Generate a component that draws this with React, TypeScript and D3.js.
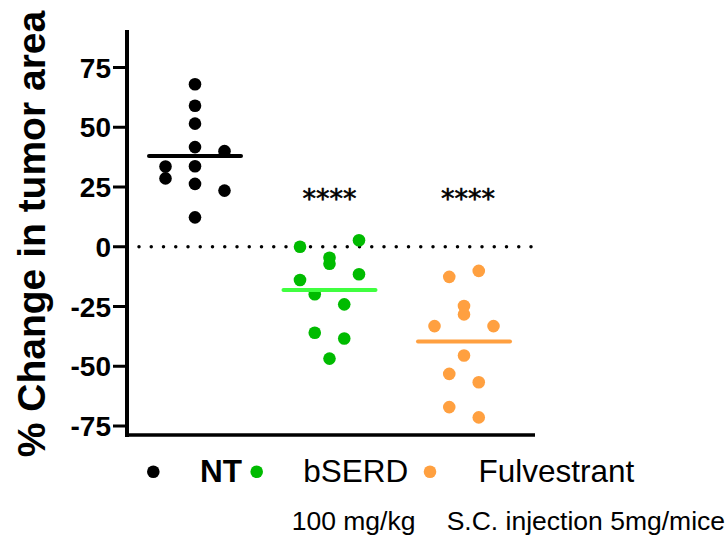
import React from "react";
import * as d3 from "d3";

const groups = ["NT", "bSERD", "Fulvestrant"];
const groupColors = ["#000000", "#00bb00", "#ffa040"];
const meanColors = ["#000000", "#40ff40", "#ffa040"];

const ntValues = [68, 59, 51.5, 41.7, 40, 33.6, 33.7, 28.6, 26.3, 23.5, 12.3];
const ntColumns = [0, 0, 0, 0, 2, -2, 0, -2, 0, 2, 0];
const bserdValues = [0, 2.7, -4.6, -7.1, -13.9, -11.5, -19.9, -24.1, -36, -38.4, -46.8];
const bserdColumns = [-2, 2, 0, 0, -2, 2, -1, 1, -1, 1, 0];
const fulvValues = [-12.6, -10.1, -24.8, -28.3, -33.2, -33.2, -45.5, -53.2, -56.7, -67.1, -71.4];
const fulvColumns = [-1, 1, 0, 0, -2, 2, 0, -1, 1, -1, 1];

const yTicks = [75, 50, 25, 0, -25, -50, -75];
const significance = ["", "****", "****"];
const doseNotes = ["100 mg/kg", "S.C. injection 5mg/mice"];
const yTitle = "% Change in tumor area";

const FONT = "'Liberation Sans', Arial, Helvetica, sans-serif";

export default function App() {
  const y = d3.scaleLinear().domain([-75, 75]).range([426, 67.5]);
  const x = d3.scalePoint<string>().domain(groups).range([195, 464]);
  const colStep = 14.75;
  const axisX = 127;
  const axisBottom = 435;
  const axisTop = 30;
  const axisRight = 535;

  const series = [
    { values: ntValues, cols: ntColumns },
    { values: bserdValues, cols: bserdColumns },
    { values: fulvValues, cols: fulvColumns },
  ];

  const legendDotX = [153.3, 256.7, 430];
  const legendTextX = [200, 303.3, 478.5];

  return (
    <svg
      width={728}
      height={540}
      style={{ position: "absolute", left: 0, top: 0, background: "#fff" }}
      fontFamily={FONT}
    >
      {/* y title */}
      <text
        transform={`translate(45,234) rotate(-90)`}
        textAnchor="middle"
        fontSize={39}
        fontWeight="bold"
        fill="#000"
      >
        {yTitle}
      </text>

      {/* zero dotted line */}
      <line
        x1={139}
        x2={axisRight}
        y1={y(0)}
        y2={y(0)}
        stroke="#000"
        strokeWidth={3.5}
        strokeLinecap="round"
        strokeDasharray="0 12.25"
      />

      {/* axes */}
      <line x1={axisX} x2={axisX} y1={axisTop} y2={axisBottom + 2} stroke="#000" strokeWidth={4} />
      <line x1={axisX - 2} x2={axisRight} y1={axisBottom} y2={axisBottom} stroke="#000" strokeWidth={3.5} />
      {yTicks.map((t) => (
        <g key={t}>
          <line x1={113} x2={axisX} y1={y(t)} y2={y(t)} stroke="#000" strokeWidth={3} />
          <text
            x={111}
            y={y(t)}
            dy="0.36em"
            textAnchor="end"
            fontSize={28}
            fontWeight="bold"
            fill="#000"
          >
            {t}
          </text>
        </g>
      ))}

      {/* points */}
      {series.map((s, gi) =>
        s.values.map((v, i) => (
          <circle
            key={`${gi}-${i}`}
            cx={(x(groups[gi]) as number) + s.cols[i] * colStep}
            cy={y(v)}
            r={6.3}
            fill={groupColors[gi]}
          />
        ))
      )}

      {/* mean lines */}
      {series.map((s, gi) => {
        const m = d3.mean(s.values) as number;
        const cx = x(groups[gi]) as number;
        return (
          <line
            key={`m${gi}`}
            x1={cx - 46}
            x2={cx + 46}
            y1={y(m)}
            y2={y(m)}
            stroke={meanColors[gi]}
            strokeWidth={4}
            strokeLinecap="round"
          />
        );
      })}

      {/* significance */}
      {significance.map((s, gi) =>
        s ? (
          <text
            key={`s${gi}`}
            x={(x(groups[gi]) as number) + (gi === 2 ? 4 : 0)}
            y={208}
            textAnchor="middle"
            fontSize={27}
            fontFamily="'DejaVu Sans', sans-serif"
            fill="#000"
            stroke="#000"
            strokeWidth={0.6}
          >
            {s}
          </text>
        ) : null
      )}

      {/* legend */}
      {groups.map((g, gi) => (
        <g key={`l${gi}`}>
          <circle cx={legendDotX[gi]} cy={471.7} r={6.3} fill={groupColors[gi]} />
          <text
            x={legendTextX[gi]}
            y={481.5}
            fontSize={31.5}
            fontWeight={gi === 0 ? "bold" : "normal"}
            fill="#000"
          >
            {g}
          </text>
        </g>
      ))}

      {/* dose notes */}
      <text x={291.7} y={530} fontSize={26.5} fill="#000">
        {doseNotes[0]}
      </text>
      <text x={446.7} y={530} fontSize={26.5} fill="#000">
        {doseNotes[1]}
      </text>
    </svg>
  );
}
